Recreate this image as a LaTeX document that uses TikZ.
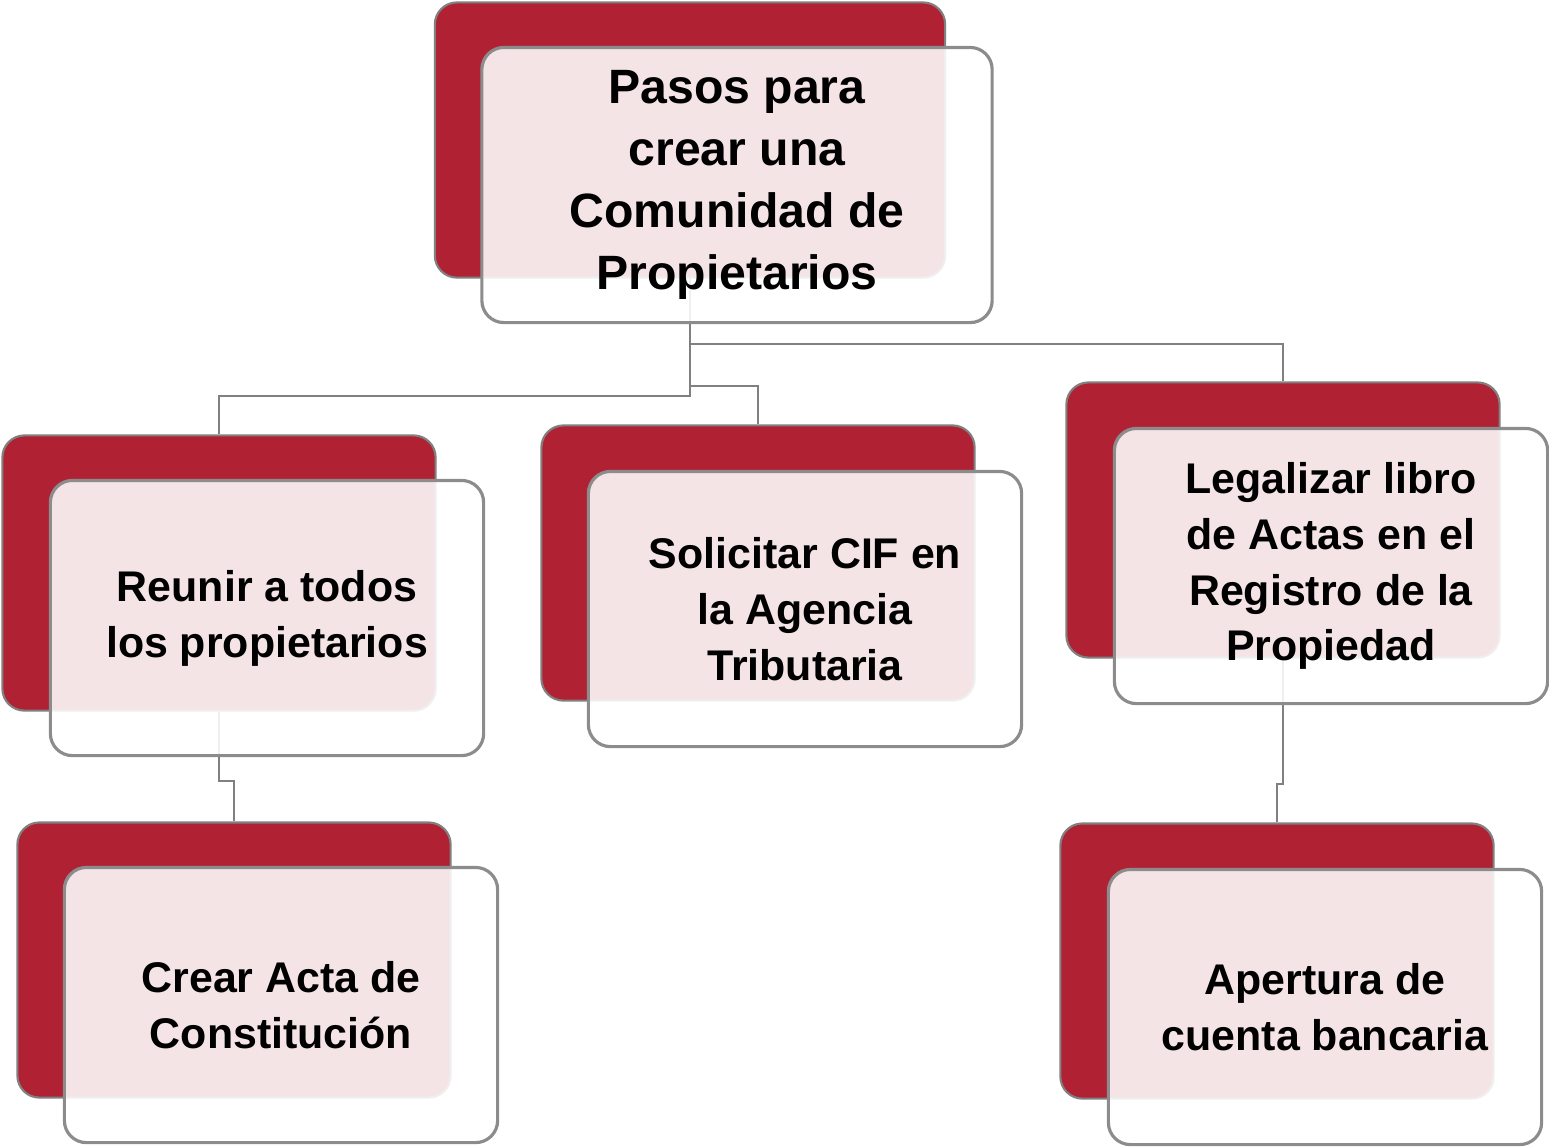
\documentclass[tikz,border=0pt]{standalone}
\usepackage{fontspec}
\setmainfont{Liberation Sans}
\usetikzlibrary{backgrounds}
\definecolor{vino}{RGB}{176,34,51}
\tikzset{
  backbox/.style={fill=vino, draw=gray, line width=0.6pt, rounded corners=0.22cm,
    minimum width=4.33cm, minimum height=2.75cm},
  frontbox/.style={fill=white, fill opacity=0.88, text opacity=1, draw=gray!90, line width=0.9pt,
    rounded corners=0.22cm, minimum width=4.33cm, minimum height=2.75cm,
    align=center, font=\fontsize{12.2}{15.9}\selectfont\bfseries},
  conn/.style={draw=gray, line width=0.5pt}
}
\begin{document}
\begin{tikzpicture}[x=0.01cm, y=-0.01cm]
\useasboundingbox (0,0) rectangle (1549,1147);

\node[backbox, minimum width=5.1cm] (pasosB) at (690,140) {};
\node[frontbox, minimum width=5.1cm, font=\fontsize{13.7}{17.6}\selectfont\bfseries] (pasos) at (737,185)
  {Pasos para\\crear una\\Comunidad de\\Propietarios};

\node[backbox] (reunirB) at (219,573) {};
\node[frontbox] (reunir) at (267,618) {Reunir a todos\\los propietarios};

\node[backbox] (solicitarB) at (758,563) {};
\node[frontbox] (solicitar) at (805,609) {Solicitar CIF en\\la Agencia\\Tributaria};

\node[backbox] (legalizarB) at (1283,520) {};
\node[frontbox] (legalizar) at (1331,566) {Legalizar libro\\de Actas en el\\Registro de la\\Propiedad};

\node[backbox] (crearB) at (234,960) {};
\node[frontbox] (crear) at (281,1005) {Crear Acta de\\Constitución};

\node[backbox] (aperturaB) at (1277,961) {};
\node[frontbox] (apertura) at (1325,1007) {Apertura de\\cuenta bancaria};

\begin{pgfonlayer}{background}
  \coordinate (j1) at ([yshift=-1.17cm]pasosB.south);
  \coordinate (j2) at ([yshift=-1.07cm]pasosB.south);
  \coordinate (j3) at ([yshift=-0.65cm]pasosB.south);
  \draw[conn] (pasosB.south) -- (j1) -| (reunirB.north);
  \draw[conn] (j2) -| (solicitarB.north);
  \draw[conn] (j3) -| (legalizarB.north);
  \draw[conn] (reunirB.south) -- ++(0,69) -| (crearB.north);
  \draw[conn] (legalizarB.south) -- ++(0,125) -| (aperturaB.north);
\end{pgfonlayer}
\end{tikzpicture}
\end{document}
